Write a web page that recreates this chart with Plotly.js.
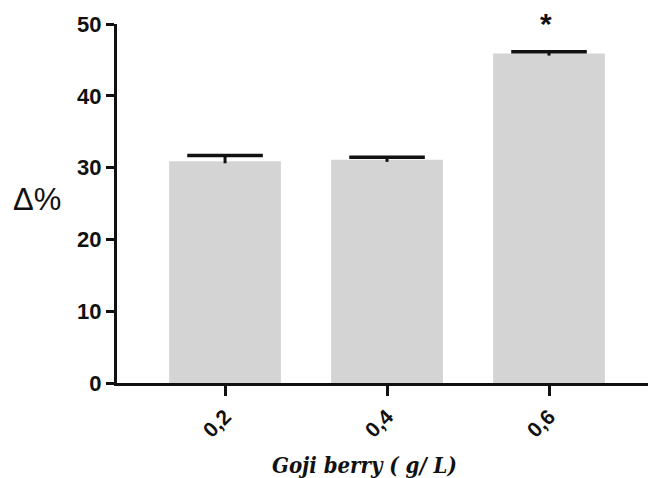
<!DOCTYPE html>
<html>
<head>
<meta charset="utf-8">
<script src="https://cdn.plot.ly/plotly-3.0.1.min.js"></script>
<style>html,body{margin:0;padding:0;background:#fff;}#chart{width:648px;height:478px;}</style>
</head>
<body>
<div id="chart"></div>
<script>
var categories = ["0,2", "0,4", "0,6"];
var values = [30.9, 31.1, 45.9];
var errors = [0.8, 0.35, 0.25];
var significance = ["", "", "*"];
var xTitle = "Goji berry ( g/ L)";
var yTitle = "Δ%";

var tops = values.map(function(v, i){ return v + errors[i]; });

var bars = {
  type: "bar",
  x: categories,
  y: values,
  width: 0.69,
  marker: {color: "#d4d4d4", line: {width: 0}},
  error_y: {type: "data", array: errors, arrayminus: errors.map(function(){return 0.3;}), symmetric: false, visible: true, color: "#111", thickness: 3, width: 0},
  hoverinfo: "none"
};
var caps = {
  type: "scatter", mode: "markers",
  x: categories, y: tops,
  marker: {symbol: "line-ew", size: 54, color: "#111", line: {width: 3.5, color: "#111"}},
  hoverinfo: "none"
};

var annotations = [];
categories.forEach(function(c, i){
  if (significance[i]) {
    annotations.push({x: c, y: tops[i], xref: "x", yref: "y", yshift: 10, xshift: -3, text: "<b>" + significance[i] + "</b>", showarrow: false,
      font: {family: "Liberation Sans, Arial, sans-serif", size: 30, color: "#111"}, yanchor: "bottom"});
  }
});
annotations.push({xref: "paper", yref: "paper", x: -0.2, y: 0.51, text: yTitle, showarrow: false,
  font: {family: "Liberation Sans, Arial, sans-serif", size: 31, color: "#111"}, xanchor: "left", yanchor: "middle"});
annotations.push({xref: "paper", yref: "paper", x: 0.467, y: -0.228, text: "<b><i>" + xTitle + "</i></b>", showarrow: false,
  font: {family: "DejaVu Serif Condensed, DejaVu Serif, serif", size: 22, color: "#111"}, xanchor: "center", yanchor: "middle"});

var layout = {
  width: 648, height: 478,
  margin: {l: 117, r: 0, t: 24, b: 95},
  paper_bgcolor: "#fff", plot_bgcolor: "#fff",
  showlegend: false,
  xaxis: {
    type: "category",
    range: [-0.667, 2.611],
    showline: true, linecolor: "#111", linewidth: 3,
    ticks: "outside", ticklen: 10, tickwidth: 3, tickcolor: "#111",
    tickangle: -45,
    tickfont: {family: "Liberation Sans, Arial, sans-serif", size: 21, color: "#111", weight: "bold"},
    showgrid: false, zeroline: false
  },
  yaxis: {
    range: [0, 50],
    tickvals: [0, 10, 20, 30, 40, 50],
    showline: true, linecolor: "#111", linewidth: 3,
    ticks: "outside", ticklen: 8, tickwidth: 3, tickcolor: "#111",
    tickfont: {family: "Liberation Sans, Arial, sans-serif", size: 22, color: "#111", weight: "bold"},
    showgrid: false, zeroline: false
  },
  annotations: annotations
};

Plotly.newPlot("chart", [bars, caps], layout, {displayModeBar: false, staticPlot: true});
</script>
</body>
</html>
